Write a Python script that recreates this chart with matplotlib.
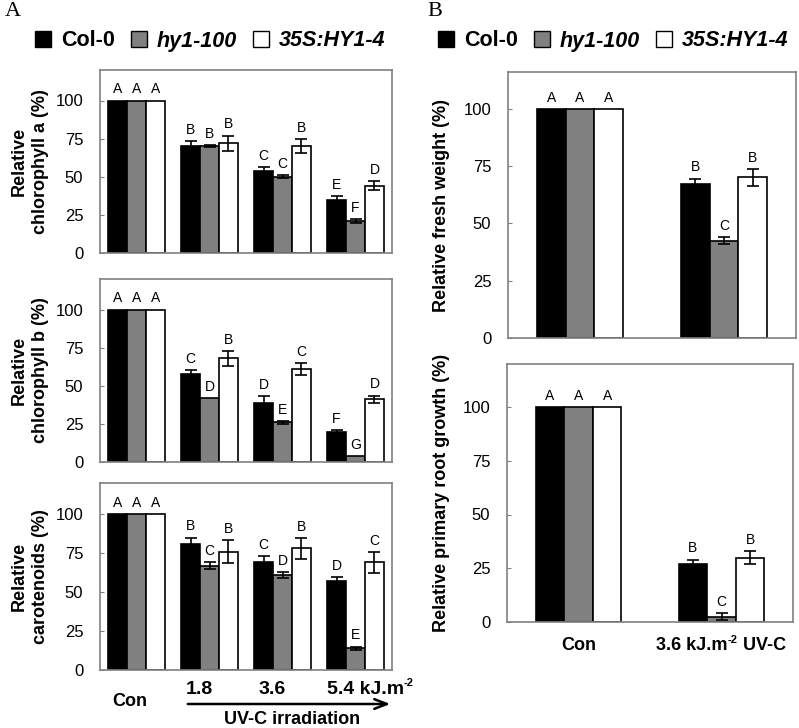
import numpy as np
import matplotlib
matplotlib.use("Agg")
import matplotlib.pyplot as plt
from matplotlib.patches import Patch, FancyArrowPatch

plt.rcParams['font.family'] = ['Liberation Sans', 'DejaVu Sans']

# ---- data ----
lines = ['Col-0', 'hy1-100', '35S:HY1-4']
colors = ['black', '#808080', 'white']

# panel A: Con, 1.8, 3.6, 5.4 kJ.m-2
chla = [[100, 70, 54, 35], [100, 70, 50, 21], [100, 72, 70, 44]]
chla_err = [[0, 3.5, 2.5, 2.5], [0, 0.5, 1, 1], [0, 5, 4.5, 3]]
chla_let = [['A', 'B', 'C', 'E'], ['A', 'B', 'C', 'F'], ['A', 'B', 'B', 'D']]

chlb = [[100, 58, 39, 20], [100, 42, 26, 4], [100, 68, 61, 41]]
chlb_err = [[0, 2.5, 4, 1], [0, 0, 1, 0], [0, 5, 4, 2.5]]
chlb_let = [['A', 'C', 'D', 'F'], ['A', 'D', 'E', 'G'], ['A', 'B', 'C', 'D']]

car = [[100, 81, 69, 57], [100, 67, 61, 14], [100, 76, 78, 69]]
car_err = [[0, 4, 4, 2.5], [0, 2, 2, 1], [0, 7.5, 6.5, 6.5]]
car_let = [['A', 'B', 'C', 'D'], ['A', 'C', 'D', 'E'], ['A', 'B', 'B', 'C']]

# panel B: Con, 3.6 kJ.m-2 UV-C
fw = [[100, 67], [100, 42.5], [100, 70]]
fw_err = [[0, 2.5], [0, 1.5], [0, 3.5]]
fw_let = [['A', 'B'], ['A', 'C'], ['A', 'B']]

root = [[100, 27], [100, 2.5], [100, 30]]
root_err = [[0, 2], [0, 1.5], [0, 3]]
root_let = [['A', 'B'], ['A', 'C'], ['A', 'B']]

W, H = 799, 728
fig = plt.figure(figsize=(W / 100, H / 100), dpi=100)
renderer = fig.canvas.get_renderer()


def box(l, t, r, b):
    return [l / W, 1 - b / H, (r - l) / W, (b - t) / H]


def bars(ax, vals, errs, lets, width, ymax, ylabel, lab_x):
    n = len(vals[0])
    x = np.arange(n)
    for i in range(3):
        xi = x + (i - 1) * width
        ax.bar(xi, vals[i], width, color=colors[i], edgecolor='black', linewidth=1.2, zorder=2)
        e = np.array(errs[i])
        m = e > 0
        ax.errorbar(xi[m], np.array(vals[i])[m], yerr=e[m], fmt='none', ecolor='black',
                    elinewidth=1.2, capsize=4.5, capthick=1.2, zorder=3)
        for j in range(n):
            ax.annotate(lets[i][j], (xi[j], vals[i][j] + errs[i][j]), xytext=(0, 3),
                        textcoords='offset points', ha='center', va='bottom', fontsize=10)
    ax.set_xlim(-0.5, n - 0.5)
    ax.set_ylim(0, ymax)
    ax.set_yticks([0, 25, 50, 75, 100])
    ax.tick_params(axis='y', direction='in', length=3, labelsize=12, pad=12, color='#808080')
    ax.set_xticks([])
    for s in ax.spines.values():
        s.set_color('#808080')
        s.set_linewidth(1.2)
    ax.set_ylabel(ylabel, fontsize=13, fontweight='bold', linespacing=1.3)
    ax.yaxis.set_label_coords(lab_x, 0.5)


def chain(x, y, parts):
    # write text pieces one after another, starting at pixel x, centred on pixel y
    for txt, size, dy in parts:
        t = fig.text(x / W, 1 - (y - dy) / H, txt, ha='left', va='center', fontsize=size,
                     fontweight='bold')
        x += t.get_window_extent(renderer).width


def chain_width(parts):
    w = 0
    for txt, size, dy in parts:
        t = fig.text(0, 0, txt, fontsize=size, fontweight='bold')
        w += t.get_window_extent(renderer).width
        t.remove()
    return w


axA1 = fig.add_axes(box(100, 70, 392, 253))
bars(axA1, chla, chla_err, chla_let, 0.26, 120, 'Relative\nchlorophyll a (%)', -0.175)
axA2 = fig.add_axes(box(100, 279, 392, 462))
bars(axA2, chlb, chlb_err, chlb_let, 0.26, 120, 'Relative\nchlorophyll b (%)', -0.175)
axA3 = fig.add_axes(box(100, 483, 392, 670))
bars(axA3, car, car_err, car_let, 0.26, 120, 'Relative\ncarotenoids (%)', -0.175)

axB1 = fig.add_axes(box(508, 72, 796, 338))
bars(axB1, fw, fw_err, fw_let, 0.2, 116, 'Relative fresh weight (%)', -0.2)
axB2 = fig.add_axes(box(507, 364, 793, 622))
bars(axB2, root, root_err, root_let, 0.2, 120, 'Relative primary root growth (%)', -0.2)

# panel B x labels
fig.text(579 / W, 1 - 646 / H, 'Con', ha='center', va='center', fontsize=13, fontweight='bold')
uv_parts = [('3.6 kJ.m', 13, 0), ('-2', 8, 6), (' UV-C', 13, 0)]
chain(721 - chain_width(uv_parts) / 2, 646, uv_parts)

# panel A x-axis annotation
fig.text(130 / W, 1 - 702 / H, 'Con', ha='center', va='center', fontsize=13, fontweight='bold')
for xp, t in [(199, '1.8'), (272, '3.6')]:
    fig.text(xp / W, 1 - 690 / H, t, ha='center', va='center', fontsize=14, fontweight='bold')
chain(327, 690, [('5.4 kJ.m', 14, 0), ('-2', 8, 7)])
fig.add_artist(FancyArrowPatch((185 / W, 1 - 704 / H), (393 / W, 1 - 704 / H),
                               transform=fig.transFigure, arrowstyle='->,head_length=9,head_width=3.5',
                               lw=1.8, color='black'))
fig.text(292 / W, 1 - 720 / H, 'UV-C irradiation', ha='center', va='center', fontsize=13,
         fontweight='bold')

# panel letters
fig.text(5 / W, 1 - 2 / H, 'A', ha='left', va='top', fontsize=16, family='Liberation Serif')
fig.text(427 / W, 1 - 2 / H, 'B', ha='left', va='top', fontsize=16, family='Liberation Serif')

# legends
handles = [Patch(facecolor=c, edgecolor='black', linewidth=1) for c in colors]
for x0 in (35, 438):
    leg = fig.legend(handles, lines, ncol=3, loc='center left', bbox_to_anchor=(x0 / W, 1 - 41 / H),
                     frameon=False, fontsize=15.5, handlelength=0.75, handleheight=0.75,
                     handletextpad=0.45, columnspacing=0.75, borderpad=0, borderaxespad=0)
    for k, t in enumerate(leg.get_texts()):
        t.set_fontweight('bold')
        if k > 0:
            t.set_fontstyle('italic')

fig.savefig('out.png', dpi=100)
